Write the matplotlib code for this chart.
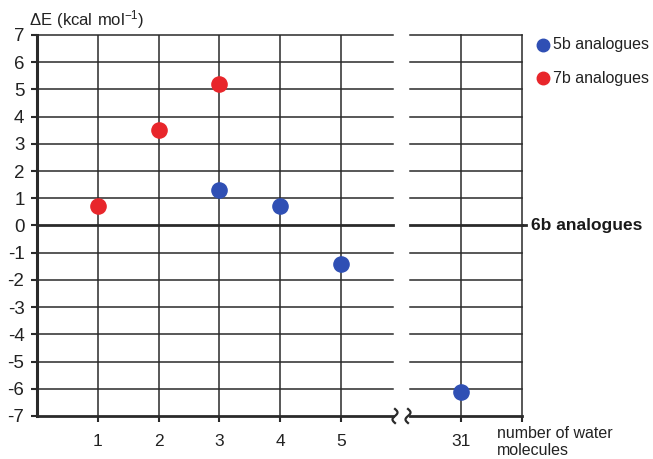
import numpy as np
import matplotlib.pyplot as plt
from matplotlib.lines import Line2D

plt.rcParams['font.family'] = ['Liberation Sans', 'DejaVu Sans']
plt.rcParams['mathtext.fontset'] = 'custom'
plt.rcParams['mathtext.rm'] = 'Liberation Sans'

# data
x_7b = [1, 2, 3]
y_7b = [0.7, 3.5, 5.2]
x_5b = [3, 4, 5]
y_5b = [1.3, 0.7, -1.4]
x_5b_far = [31]
y_5b_far = [-6.1]
left_ticks = [1, 2, 3, 4, 5]
right_ticks = [31]
y_ticks = list(range(-7, 8))

blue = '#2f4fb4'
red = '#e8262b'
grid_col = '#2a2a2a'
txt_col = '#222222'

W, H = 653, 459
fig = plt.figure(figsize=(W / 100, H / 100), dpi=100)

def px_axes(x0, x1, ytop, ybot):
    return fig.add_axes([x0 / W, 1 - ybot / H, (x1 - x0) / W, (ybot - ytop) / H])

ax1 = px_axes(37, 393, 35, 416)
ax2 = px_axes(410, 522, 35, 416)

for ax in (ax1, ax2):
    ax.set_ylim(-7, 7)
    for s in ax.spines.values():
        s.set_visible(False)
    for yv in y_ticks:
        lw = 2.0 if yv in (0, -7) else 1.1
        ax.axhline(yv, color=grid_col, lw=lw, zorder=1, clip_on=False)
    ax.set_yticks(y_ticks)
    ax.tick_params(axis='both', length=4, width=1.5, color=grid_col,
                   labelcolor=txt_col)
    ax.tick_params(axis='x', pad=9, labelsize=12.5)
    ax.tick_params(axis='y', pad=5, labelsize=13.5)

ax1.set_xlim(0, 5.86)
ax1.set_xticks(left_ticks)
ax1.set_xticklabels([str(t) for t in left_ticks])
ax1.set_yticklabels([str(t) for t in y_ticks])
ax1.spines['left'].set_visible(True)
ax1.spines['left'].set_linewidth(2.2)
ax1.spines['left'].set_color(grid_col)
for xv in left_ticks:
    ax1.axvline(xv, color=grid_col, lw=1.1, zorder=1)

ax2.set_xlim(30.15, 32)
ax2.set_xticks([31, 32])
ax2.set_xticklabels(['31', ''])
ax2.tick_params(axis='y', left=False, labelleft=False)
for xv in [31, 32]:
    ax2.axvline(xv, color=grid_col, lw=1.1, zorder=1, clip_on=False)

ax1.scatter(x_7b, y_7b, s=120, color=red, zorder=3, clip_on=False)
ax1.scatter(x_5b, y_5b, s=120, color=blue, zorder=3, clip_on=False)
ax2.scatter(x_5b_far, y_5b_far, s=120, color=blue, zorder=3, clip_on=False)

# zero line continues to the 6b label
fig.add_artist(Line2D([522 / W, 526 / W], [1 - 225 / H, 1 - 225 / H],
                      color=grid_col, lw=2.0))
fig.text(531 / W, 1 - 225 / H, '6b analogues', fontsize=12.5, fontweight='bold',
         va='center', ha='left', color='#1a1a1a')

# break marks
t = np.linspace(0, 1, 40)
for cx in (395, 408):
    xs = cx + 2.5 * np.sin(t * 2 * np.pi)
    ys = 409 + 14 * t
    fig.add_artist(Line2D(xs / W, 1 - ys / H, color=grid_col, lw=1.6))

# legend
fig.add_artist(Line2D([543 / W], [1 - 45 / H], marker='o', markersize=9,
                      color=blue, lw=0))
fig.add_artist(Line2D([543 / W], [1 - 78 / H], marker='o', markersize=9,
                      color=red, lw=0))
fig.text(553 / W, 1 - 45 / H, '5b analogues', fontsize=11.5, va='center', color=txt_col)
fig.text(553 / W, 1 - 78 / H, '7b analogues', fontsize=11.5, va='center', color=txt_col)

fig.text(29 / W, 1 - 20 / H, r'$\mathregular{\Delta E\ (kcal\ mol^{-1})}$', fontsize=12,
         va='center', color=txt_col)
fig.text(497 / W, 1 - 442 / H, 'number of water\nmolecules', fontsize=11.5,
         va='center', ha='left', color=txt_col, linespacing=1.15)

fig.savefig('out.png', dpi=100)
